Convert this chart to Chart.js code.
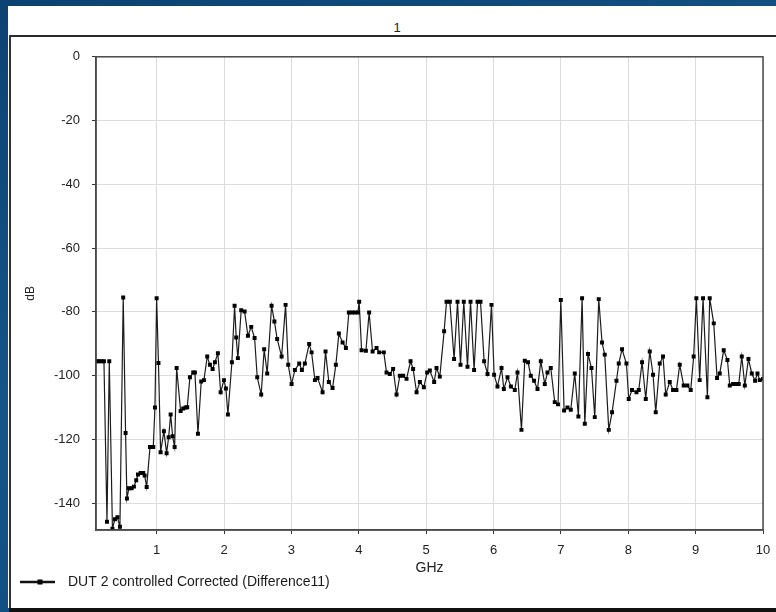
<!DOCTYPE html>
<html>
<head>
<meta charset="utf-8">
<title>DUT 2 controlled Corrected</title>
<script src="https://cdn.jsdelivr.net/npm/chart.js@4.4.1/dist/chart.umd.min.js"></script>
<style>
  body { margin: 0; width: 776px; height: 612px; overflow: hidden;
         background: linear-gradient(160deg, #0c4272 0%, #145489 45%, #0e4a7d 100%); }
  #panel { position: absolute; left: 8px; top: 6px; width: 768px; height: 602px; background: #fff; }
  #ttl { position: absolute; left: 10px; top: 20px; width: 774px; text-align: center;
         font: 13px "Liberation Sans", Arial, sans-serif; color: #222; }
  #frame { position: absolute; left: 9px; top: 35px; width: 767px; height: 573px; box-sizing: border-box;
           border-top: 2px solid #2a2a2a; border-left: 2px solid #333; }
  #cv { position: absolute; left: 11px; top: 37px; width: 765px; height: 571px; }
  #base { position: absolute; left: 9px; top: 608px; width: 767px; height: 4px; background: #111; }
</style>
</head>
<body>
<div id="panel"></div>
<div id="ttl">1</div>
<div id="frame"></div>
<div id="cv"><canvas id="c"></canvas></div>
<div id="base"></div>
<script>
// sweep frequencies (GHz) and corrected difference (dB)
var freqGHz = [
  0.110, 0.144, 0.181, 0.218, 0.263, 0.297, 0.344, 0.381, 0.418, 0.455,
  0.504, 0.539, 0.559, 0.589, 0.629, 0.663, 0.697, 0.723, 0.763, 0.801,
  0.822, 0.852, 0.901, 0.950, 0.975, 1.000, 1.027, 1.059, 1.108, 1.148,
  1.178, 1.208, 1.237, 1.267, 1.297, 1.356, 1.395, 1.430, 1.454, 1.494,
  1.543, 1.568, 1.613, 1.662, 1.702, 1.751, 1.791, 1.831, 1.865, 1.909,
  1.950, 1.999, 2.028, 2.058, 2.117, 2.157, 2.181, 2.206, 2.255, 2.306,
  2.355, 2.404, 2.454, 2.493, 2.552, 2.596, 2.641, 2.706, 2.748, 2.789,
  2.855, 2.914, 2.953, 3.003, 3.052, 3.116, 3.156, 3.200, 3.264, 3.300,
  3.349, 3.388, 3.463, 3.507, 3.556, 3.611, 3.660, 3.705, 3.760, 3.809,
  3.853, 3.898, 3.942, 3.987, 4.006, 4.042, 4.106, 4.154, 4.205, 4.264,
  4.303, 4.372, 4.412, 4.461, 4.510, 4.561, 4.610, 4.659, 4.709, 4.769,
  4.807, 4.858, 4.907, 4.966, 5.015, 5.055, 5.119, 5.154, 5.203, 5.267,
  5.303, 5.352, 5.415, 5.466, 5.510, 5.559, 5.614, 5.659, 5.712, 5.763,
  5.807, 5.861, 5.911, 5.970, 6.009, 6.059, 6.119, 6.153, 6.208, 6.258,
  6.316, 6.356, 6.415, 6.464, 6.513, 6.553, 6.602, 6.653, 6.702, 6.761,
  6.801, 6.850, 6.909, 6.958, 6.999, 7.048, 7.098, 7.147, 7.206, 7.260,
  7.315, 7.355, 7.403, 7.454, 7.503, 7.562, 7.611, 7.651, 7.711, 7.760,
  7.825, 7.859, 7.908, 7.973, 8.007, 8.056, 8.122, 8.156, 8.205, 8.260,
  8.319, 8.368, 8.408, 8.467, 8.516, 8.556, 8.616, 8.665, 8.715, 8.764,
  8.823, 8.878, 8.927, 8.971, 9.011, 9.060, 9.110, 9.175, 9.209, 9.269,
  9.318, 9.358, 9.417, 9.472, 9.507, 9.556, 9.606, 9.640, 9.685, 9.730,
  9.784, 9.834, 9.883, 9.918, 9.952, 10.000
];
var diffDb = [
  -95.5, -95.5, -95.5, -95.5, -145.8, -95.5, -148.0, -145.0, -144.4, -147.4,
  -75.5, -118.0, -138.5, -135.3, -135.3, -134.8, -132.8, -131.0, -130.5, -130.5,
  -131.3, -134.9, -122.4, -122.4, -110.0, -75.7, -96.0, -124.0, -117.4, -124.3,
  -119.3, -112.2, -119.0, -122.4, -97.6, -111.1, -110.3, -110.0, -109.9, -100.5,
  -99.0, -99.0, -118.2, -101.8, -101.4, -94.0, -96.6, -97.9, -95.8, -93.0,
  -105.2, -101.4, -104.0, -112.2, -95.8, -78.1, -88.0, -94.5, -79.5, -79.9,
  -87.5, -84.7, -88.2, -100.5, -105.9, -91.7, -99.3, -78.1, -83.0, -88.5,
  -94.0, -77.8, -96.6, -102.6, -98.2, -96.2, -98.2, -96.2, -90.1, -92.7,
  -101.4, -100.7, -105.2, -92.4, -102.0, -103.9, -96.6, -86.8, -89.6, -91.3,
  -80.2, -80.2, -80.2, -80.2, -76.8, -92.0, -92.2, -80.2, -92.4, -91.3,
  -92.7, -92.7, -99.0, -99.5, -97.9, -105.9, -100.0, -100.0, -101.0, -95.5,
  -97.9, -105.2, -102.0, -103.6, -99.0, -98.4, -102.0, -97.6, -100.3, -86.1,
  -76.8, -76.8, -94.8, -76.8, -96.6, -76.8, -97.2, -76.8, -98.2, -76.8,
  -76.8, -95.5, -99.5, -77.8, -99.7, -103.4, -97.6, -104.2, -100.5, -103.4,
  -104.5, -99.0, -117.0, -95.3, -95.8, -100.0, -101.6, -104.2, -95.5, -102.6,
  -99.0, -97.6, -108.3, -109.0, -76.3, -110.9, -110.0, -110.7, -99.3, -112.8,
  -75.7, -115.1, -93.2, -97.6, -113.0, -76.0, -89.6, -93.4, -117.0, -111.5,
  -101.6, -96.2, -91.7, -96.2, -107.3, -104.5, -105.2, -104.5, -95.8, -107.3,
  -92.4, -99.7, -111.5, -96.2, -94.0, -105.9, -102.0, -104.5, -104.5, -96.6,
  -103.1, -103.1, -104.5, -94.0, -75.7, -101.4, -75.7, -106.8, -75.7, -83.6,
  -100.7, -99.3, -92.0, -95.1, -103.1, -102.6, -102.6, -102.6, -94.0, -103.1,
  -94.8, -99.3, -101.6, -99.3, -101.4, -101.0
];
var xTicks = [1, 2, 3, 4, 5, 6, 7, 8, 9, 10];
var yTicks = [0, -20, -40, -60, -80, -100, -120, -140];
var seriesName = 'DUT 2 controlled Corrected (Difference11)';

var pts = [];
for (var i = 0; i < freqGHz.length; i++) {
  pts.push({ x: freqGHz[i], y: diffDb[i] });
}

var fam = '"Liberation Sans", Arial, sans-serif';
var tickFont = { family: fam, size: 13 };

// box around the plot plus the legend key (line with a square marker)
var boxAndKey = {
  id: 'boxAndKey',
  afterDraw: function(chart) {
    var ctx = chart.ctx, a = chart.chartArea;
    ctx.save();
    ctx.strokeStyle = '#4a4a4a';
    ctx.lineWidth = 1.5;
    ctx.strokeRect(a.left, a.top, a.right - a.left, a.bottom - a.top);

    var ky = 545;
    ctx.strokeStyle = '#111';
    ctx.lineWidth = 2.5;
    ctx.beginPath();
    ctx.moveTo(9, ky);
    ctx.lineTo(44, ky);
    ctx.stroke();
    ctx.fillStyle = '#000';
    ctx.fillRect(26.5, ky - 2.5, 5, 5);
    ctx.fillStyle = '#1a1a1a';
    ctx.font = '14px ' + fam;
    ctx.textBaseline = 'middle';
    ctx.fillText(seriesName, 57, ky);
    ctx.restore();
  }
};

var ctx = document.getElementById('c').getContext('2d');
var chart = new Chart(ctx, {
  type: 'line',
  data: {
    datasets: [{
      label: seriesName,
      data: pts,
      borderColor: '#1c1c1c',
      borderWidth: 1.2,
      pointStyle: 'rect',
      pointRadius: 2.8,
      pointBackgroundColor: '#000',
      pointBorderWidth: 0,
      tension: 0
    }]
  },
  options: {
    responsive: true,
    maintainAspectRatio: false,
    animation: false,
    layout: { padding: { left: 0, top: 18, right: 13, bottom: 28 } },
    plugins: {
      legend: { display: false },
      tooltip: { enabled: false }
    },
    scales: {
      x: {
        type: 'linear',
        min: 0.1,
        max: 10,
        afterBuildTicks: function(s) { s.ticks = xTicks.map(function(v) { return { value: v }; }); },
        afterFit: function(s) { s.height = 50; s.paddingLeft = 0; s.paddingRight = 0; },
        ticks: { font: tickFont, color: '#222', padding: 9, maxRotation: 0 },
        grid: { color: '#dcdcdc', lineWidth: 1, tickLength: 4, tickColor: '#333' },
        border: { color: '#4a4a4a', width: 1.5 },
        title: { display: true, text: 'GHz', font: { family: fam, size: 14 }, color: '#222', padding: { top: 0, bottom: 3 } }
      },
      y: {
        min: -148.4,
        max: 0,
        afterBuildTicks: function(s) { s.ticks = yTicks.map(function(v) { return { value: v }; }); },
        afterFit: function(s) { s.width = 85; },
        ticks: { font: tickFont, color: '#222', padding: 12 },
        grid: { color: '#dcdcdc', lineWidth: 1, tickLength: 4, tickColor: '#333' },
        border: { color: '#4a4a4a', width: 1.5 },
        title: { display: true, text: 'dB', font: { family: fam, size: 12 }, color: '#222', padding: { top: 12, bottom: 0 } }
      }
    }
  },
  plugins: [boxAndKey]
});
</script>
</body>
</html>
